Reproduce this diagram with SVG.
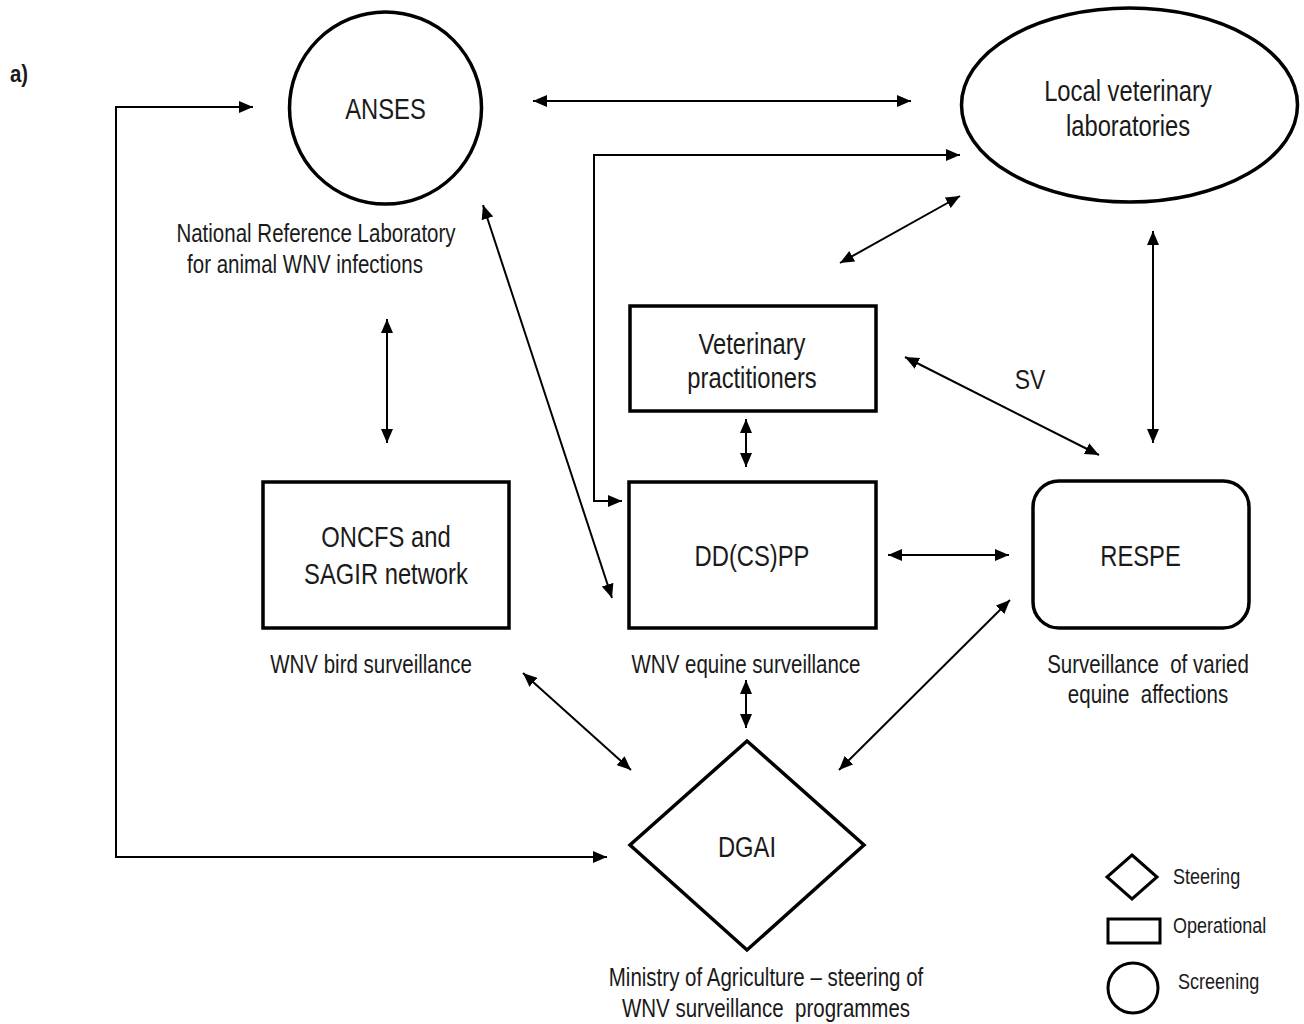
<svg xmlns="http://www.w3.org/2000/svg" width="1304" height="1024" viewBox="0 0 1304 1024">
<defs>
<marker id="ah" viewBox="0 0 14 12" refX="14" refY="6" markerWidth="14" markerHeight="12" markerUnits="userSpaceOnUse" orient="auto-start-reverse">
<path d="M0,0 L14,6 L0,12 z" fill="#000"/>
</marker>
<style>
text{font-family:"Liberation Sans",Arial,sans-serif;fill:#1a1a1a;text-anchor:middle}
.n{font-size:29px}
.d{font-size:25px}
.l{font-size:22px;text-anchor:start}
.shape{fill:#fff;stroke:#000;stroke-width:3.5}
.lg{fill:#fff;stroke:#000;stroke-width:3}
.c{fill:none;stroke:#000;stroke-width:2;marker-start:url(#ah);marker-end:url(#ah)}
.c1{fill:none;stroke:#000;stroke-width:2;marker-end:url(#ah)}
</style>
</defs>
<rect width="1304" height="1024" fill="#fff"/>
<text transform="translate(10,82) scale(0.85,1)" style="font-size:24px;font-weight:bold;text-anchor:start">a)</text>

<g id="connectors">
<line class="c" x1="533" y1="101" x2="911" y2="101"/>
<path class="c" d="M960,155 H594 V501 H622"/>
<line class="c" x1="960" y1="196" x2="840" y2="263"/>
<line class="c" x1="1153" y1="231" x2="1153" y2="443"/>
<line class="c" x1="905" y1="357" x2="1099" y2="455"/>
<line class="c" x1="746" y1="419" x2="746" y2="467"/>
<line class="c" x1="483" y1="205" x2="612" y2="598"/>
<line class="c" x1="387" y1="319" x2="387" y2="443"/>
<line class="c" x1="888" y1="555" x2="1009" y2="555"/>
<line class="c" x1="746" y1="680" x2="746" y2="728"/>
<line class="c" x1="523" y1="673" x2="631" y2="770"/>
<line class="c" x1="1010" y1="600" x2="839" y2="770"/>
<path class="c1" d="M607,857 H116 V107 H253" style="marker-start:url(#ah)"/>
<text transform="translate(1030,389) scale(0.82,1)" class="n" style="font-size:28px">SV</text>
</g>

<g id="anses">
<circle class="shape" cx="385.5" cy="108" r="96"/>
<text transform="translate(385.5,119) scale(0.82,1)" class="n">ANSES</text>
<text transform="translate(316,242) scale(0.82,1)" class="d">National Reference Laboratory</text>
<text transform="translate(305,273) scale(0.82,1)" class="d">for animal WNV infections</text>
</g>

<g id="local-labs">
<ellipse class="shape" cx="1129.5" cy="105" rx="168" ry="97"/>
<text transform="translate(1128,101) scale(0.82,1)" class="n">Local veterinary</text>
<text transform="translate(1128,136) scale(0.82,1)" class="n">laboratories</text>
</g>

<g id="vet-practitioners">
<rect class="shape" x="630" y="306" width="246" height="105"/>
<text transform="translate(752,354) scale(0.82,1)" class="n">Veterinary</text>
<text transform="translate(752,388) scale(0.82,1)" class="n">practitioners</text>
</g>

<g id="oncfs">
<rect class="shape" x="263" y="482" width="246" height="146"/>
<text transform="translate(386,547) scale(0.82,1)" class="n">ONCFS and</text>
<text transform="translate(386,584) scale(0.82,1)" class="n">SAGIR network</text>
<text transform="translate(371,673) scale(0.82,1)" class="d">WNV bird surveillance</text>
</g>

<g id="ddcspp">
<rect class="shape" x="629" y="482" width="247" height="146"/>
<text transform="translate(752,566) scale(0.82,1)" class="n">DD(CS)PP</text>
<text transform="translate(746,673) scale(0.82,1)" class="d">WNV equine surveillance</text>
</g>

<g id="respe">
<rect class="shape" x="1033" y="481" width="216" height="147" rx="26" ry="26"/>
<text transform="translate(1140.5,566) scale(0.82,1)" class="n">RESPE</text>
<text transform="translate(1148,673) scale(0.82,1)" class="d" xml:space="preserve">Surveillance  of varied</text>
<text transform="translate(1148,703) scale(0.82,1)" class="d" xml:space="preserve">equine  affections</text>
</g>

<g id="dgai">
<polygon class="shape" points="747,741 864,845 747,950 630,845"/>
<text transform="translate(747,857) scale(0.82,1)" class="n">DGAI</text>
<text transform="translate(766,986) scale(0.82,1)" class="d">Ministry of Agriculture – steering of</text>
<text transform="translate(766,1017) scale(0.82,1)" class="d" xml:space="preserve">WNV surveillance  programmes</text>
</g>

<g id="legend">
<polygon class="lg" points="1132,855 1157,877 1132,899 1107,877"/>
<text transform="translate(1173,884) scale(0.82,1)" class="l">Steering</text>
<rect class="lg" x="1108" y="919" width="52" height="24"/>
<text transform="translate(1173,933) scale(0.82,1)" class="l">Operational</text>
<circle class="lg" cx="1133" cy="988" r="25"/>
<text transform="translate(1178,989) scale(0.82,1)" class="l">Screening</text>
</g>
</svg>
